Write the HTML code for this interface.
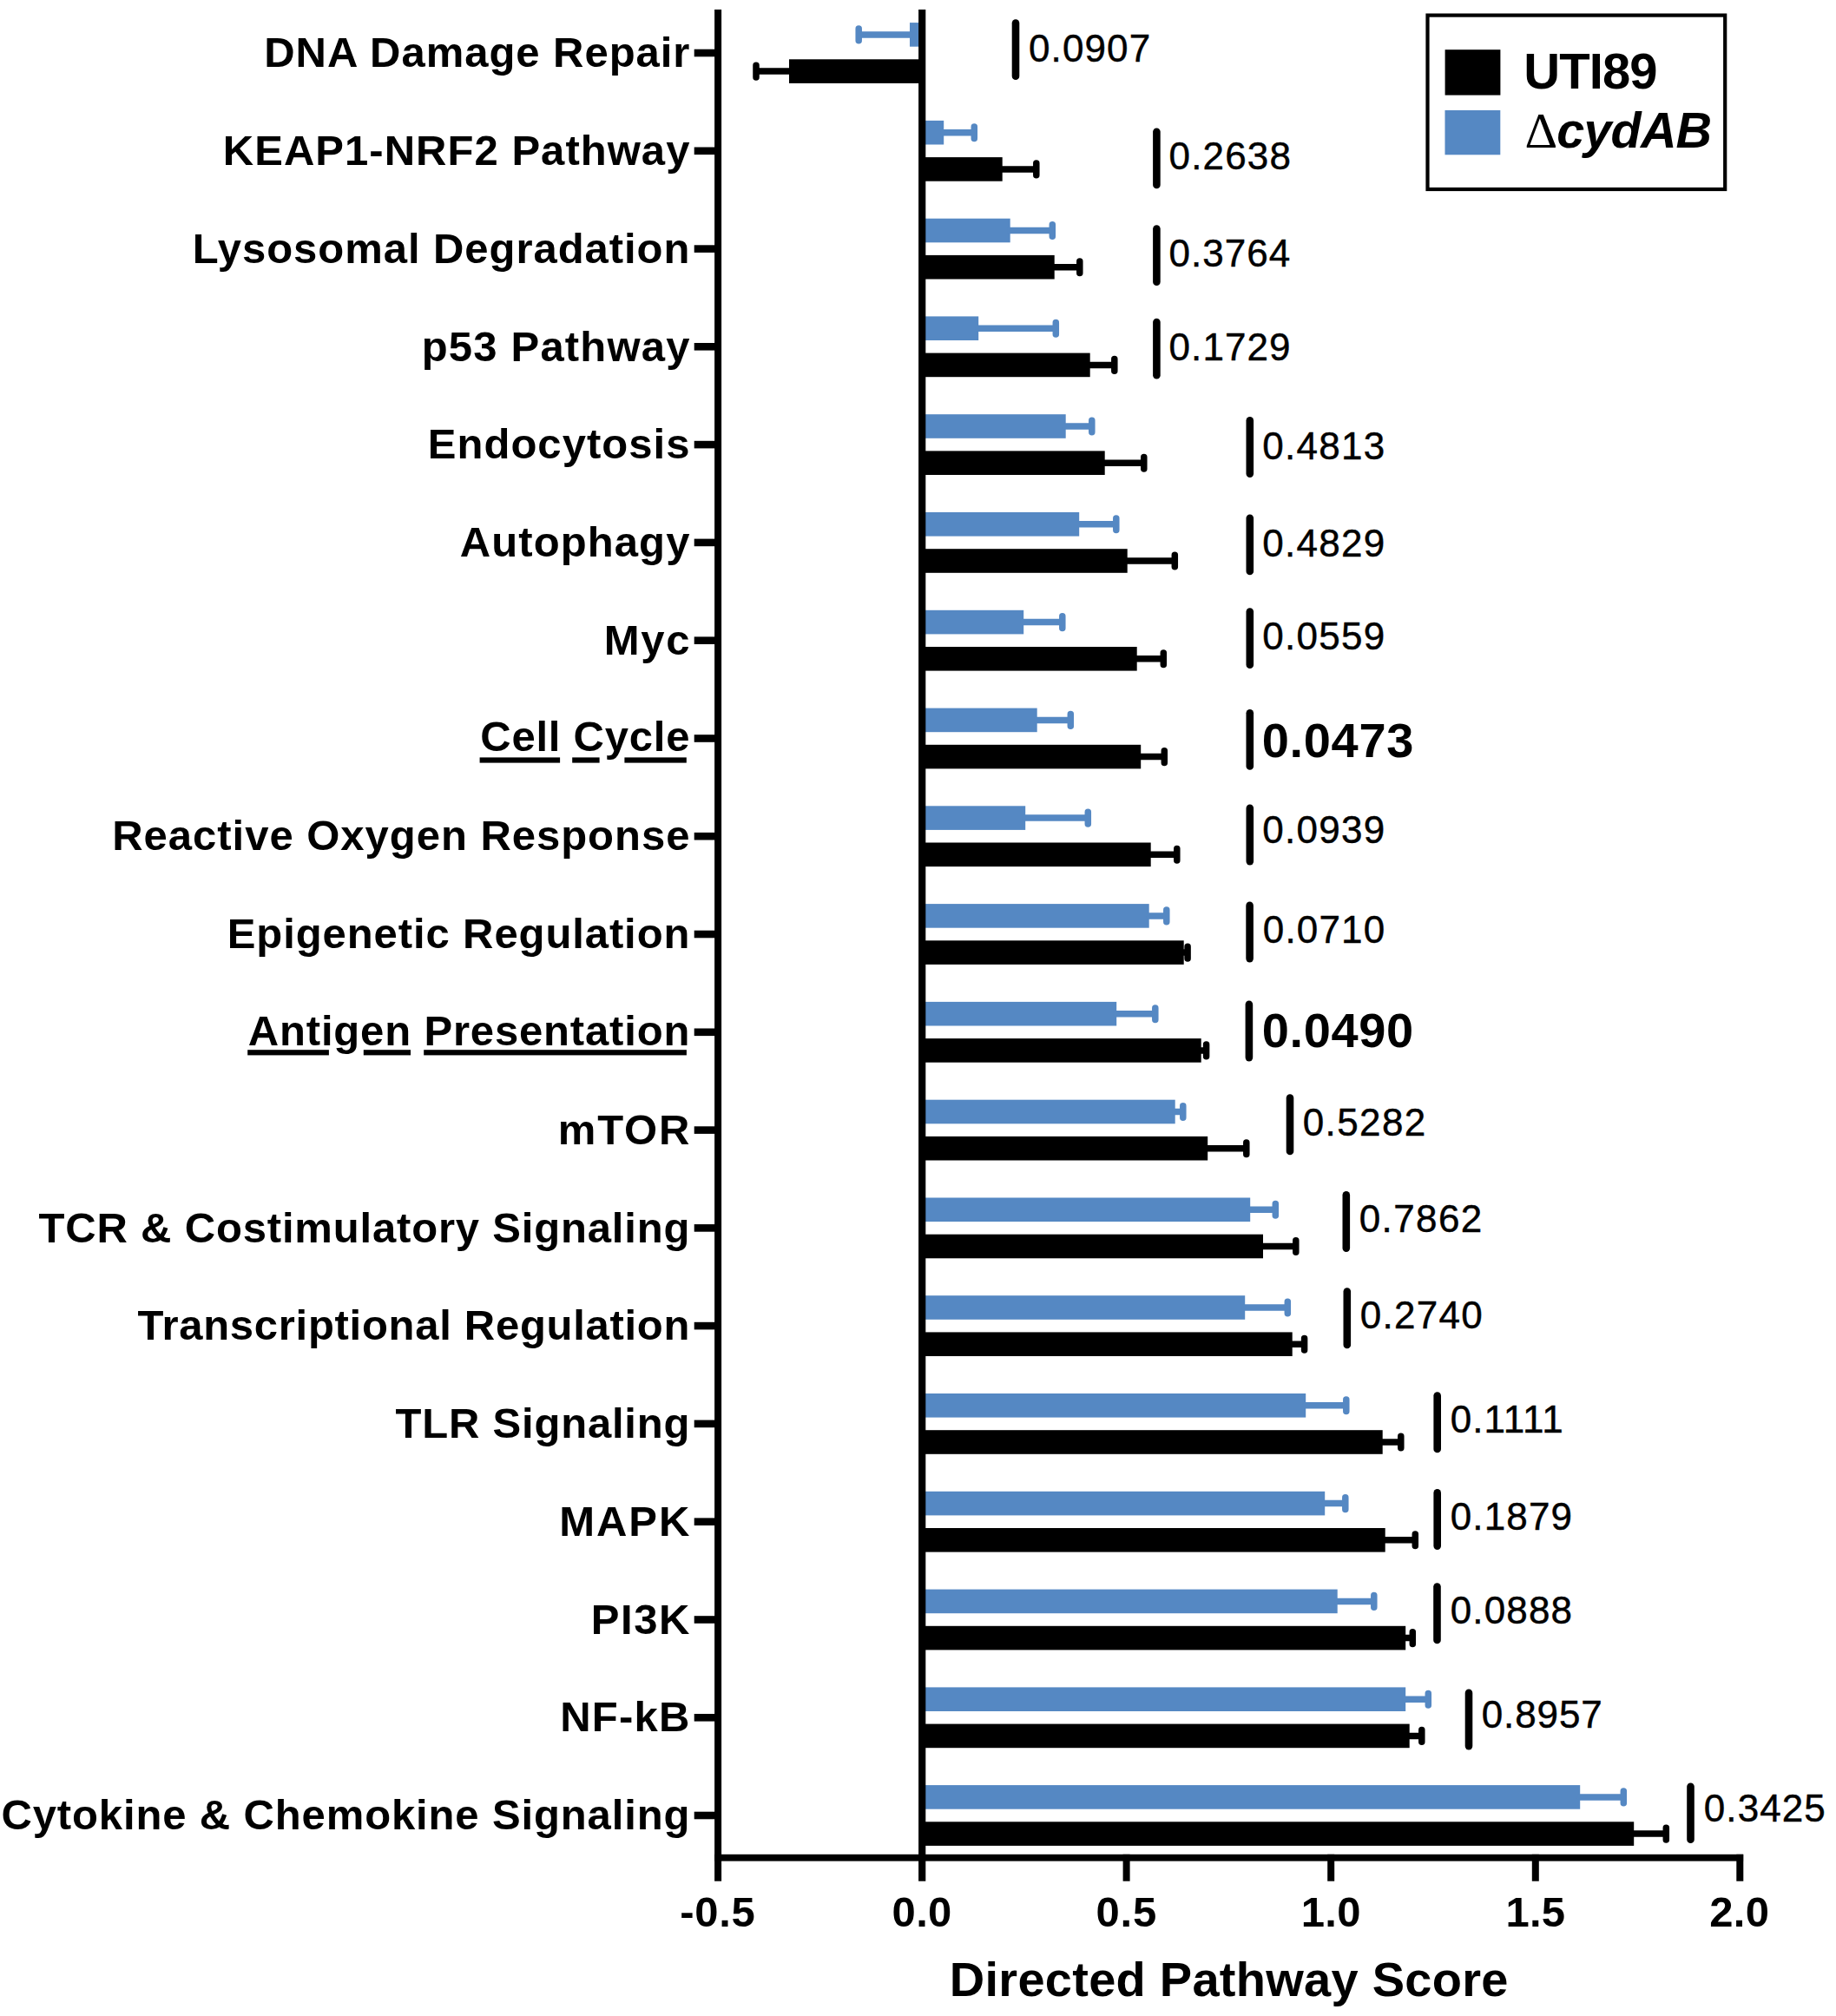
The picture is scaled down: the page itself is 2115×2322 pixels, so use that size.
<!DOCTYPE html>
<html><head><meta charset="utf-8"><title>Directed Pathway Score</title>
<style>html,body{margin:0;padding:0;background:#fff}svg{display:block}text{font-family:"Liberation Sans",sans-serif;fill:#000}.b{font-weight:700}.bi{font-weight:700;font-style:italic}.s{font-family:"Liberation Serif",serif}.r{stroke:#000;stroke-width:.45px}</style></head><body>
<svg width="2115" height="2322" viewBox="0 0 2115 2322">
<rect width="2115" height="2322" fill="#fff"/>
<rect x="1048.0" y="26.1" width="14.2" height="27.6" fill="#5588c3"/>
<path d="M1048.0 39.9H989.2M989.2 33.1V46.7" stroke="#5588c3" stroke-width="7.5" stroke-linecap="round" fill="none"/>
<rect x="909.0" y="68.3" width="153.2" height="27.6" fill="#000"/>
<path d="M909.0 82.1H871.0M871.0 75.3V88.9" stroke="#000" stroke-width="7.5" stroke-linecap="round" fill="none"/>
<rect x="799.7" y="56.7" width="25" height="8.6" fill="#000"/>
<text class="b" font-size="49" letter-spacing="0.965" x="304.25" y="77.20">DNA Damage Repair</text>
<path d="M1170 26.6V87.8" stroke="#000" stroke-width="8.6" stroke-linecap="round"/>
<text class="r" font-size="44" letter-spacing="1.095" x="1185.05" y="70.90">0.0907</text>
<rect x="1062.2" y="138.9" width="25.0" height="27.6" fill="#5588c3"/>
<path d="M1087.2 152.7H1122.3M1122.3 145.9V159.5" stroke="#5588c3" stroke-width="7.5" stroke-linecap="round" fill="none"/>
<rect x="1062.2" y="181.1" width="92.5" height="27.6" fill="#000"/>
<path d="M1154.7 194.9H1193.8M1193.8 188.1V201.7" stroke="#000" stroke-width="7.5" stroke-linecap="round" fill="none"/>
<rect x="799.7" y="169.5" width="25" height="8.6" fill="#000"/>
<text class="b" font-size="49" letter-spacing="1.033" x="256.75" y="189.98">KEAP1-NRF2 Pathway</text>
<path d="M1332.4 151.8V213.0" stroke="#000" stroke-width="8.6" stroke-linecap="round"/>
<text class="r" font-size="44" letter-spacing="1.165" x="1346.55" y="195.30">0.2638</text>
<rect x="1062.2" y="251.7" width="101.5" height="27.6" fill="#5588c3"/>
<path d="M1163.7 265.5H1212.3M1212.3 258.7V272.3" stroke="#5588c3" stroke-width="7.5" stroke-linecap="round" fill="none"/>
<rect x="1062.2" y="293.9" width="152.5" height="27.6" fill="#000"/>
<path d="M1214.7 307.7H1243.8M1243.8 300.9V314.5" stroke="#000" stroke-width="7.5" stroke-linecap="round" fill="none"/>
<rect x="799.7" y="282.3" width="25" height="8.6" fill="#000"/>
<text class="b" font-size="49" letter-spacing="0.950" x="221.75" y="302.76">Lysosomal Degradation</text>
<path d="M1332.4 263.5V324.7" stroke="#000" stroke-width="8.6" stroke-linecap="round"/>
<text class="r" font-size="44" letter-spacing="1.040" x="1346.55" y="307.00">0.3764</text>
<rect x="1062.2" y="364.4" width="65.0" height="27.6" fill="#5588c3"/>
<path d="M1127.2 378.2H1216.3M1216.3 371.4V385.0" stroke="#5588c3" stroke-width="7.5" stroke-linecap="round" fill="none"/>
<rect x="1062.2" y="406.6" width="193.5" height="27.6" fill="#000"/>
<path d="M1255.7 420.4H1283.8M1283.8 413.6V427.2" stroke="#000" stroke-width="7.5" stroke-linecap="round" fill="none"/>
<rect x="799.7" y="395.0" width="25" height="8.6" fill="#000"/>
<text class="b" font-size="49" letter-spacing="1.180" x="485.75" y="415.54">p53 Pathway</text>
<path d="M1332.4 371.1V432.2" stroke="#000" stroke-width="8.6" stroke-linecap="round"/>
<text class="r" font-size="44" letter-spacing="1.090" x="1346.55" y="414.60">0.1729</text>
<rect x="1062.2" y="477.2" width="165.5" height="27.6" fill="#5588c3"/>
<path d="M1227.7 491.0H1257.8M1257.8 484.2V497.8" stroke="#5588c3" stroke-width="7.5" stroke-linecap="round" fill="none"/>
<rect x="1062.2" y="519.4" width="210.5" height="27.6" fill="#000"/>
<path d="M1272.7 533.2H1317.8M1317.8 526.4V540.0" stroke="#000" stroke-width="7.5" stroke-linecap="round" fill="none"/>
<rect x="799.7" y="507.8" width="25" height="8.6" fill="#000"/>
<text class="b" font-size="49" letter-spacing="1.030" x="492.75" y="528.32">Endocytosis</text>
<path d="M1439.8 484.4V545.6" stroke="#000" stroke-width="8.6" stroke-linecap="round"/>
<text class="r" font-size="44" letter-spacing="1.285" x="1454.15" y="528.80">0.4813</text>
<rect x="1062.2" y="590.0" width="181.0" height="27.6" fill="#5588c3"/>
<path d="M1243.2 603.8H1285.8M1285.8 597.0V610.6" stroke="#5588c3" stroke-width="7.5" stroke-linecap="round" fill="none"/>
<rect x="1062.2" y="632.2" width="236.5" height="27.6" fill="#000"/>
<path d="M1298.7 646.0H1353.3M1353.3 639.2V652.8" stroke="#000" stroke-width="7.5" stroke-linecap="round" fill="none"/>
<rect x="799.7" y="620.6" width="25" height="8.6" fill="#000"/>
<text class="b" font-size="49" letter-spacing="1.098" x="529.75" y="641.10">Autophagy</text>
<path d="M1439.8 596.8V658.0" stroke="#000" stroke-width="8.6" stroke-linecap="round"/>
<text class="r" font-size="44" letter-spacing="1.310" x="1454.15" y="640.60">0.4829</text>
<rect x="1062.2" y="702.8" width="117.0" height="27.6" fill="#5588c3"/>
<path d="M1179.2 716.6H1223.8M1223.8 709.8V723.4" stroke="#5588c3" stroke-width="7.5" stroke-linecap="round" fill="none"/>
<rect x="1062.2" y="745.0" width="247.5" height="27.6" fill="#000"/>
<path d="M1309.7 758.8H1340.3M1340.3 752.0V765.6" stroke="#000" stroke-width="7.5" stroke-linecap="round" fill="none"/>
<rect x="799.7" y="733.4" width="25" height="8.6" fill="#000"/>
<text class="b" font-size="49" letter-spacing="1.714" x="695.65" y="753.88">Myc</text>
<path d="M1439.8 704.5V765.7" stroke="#000" stroke-width="8.6" stroke-linecap="round"/>
<text class="r" font-size="44" letter-spacing="1.310" x="1454.15" y="748.40">0.0559</text>
<rect x="1062.2" y="815.6" width="132.5" height="27.6" fill="#5588c3"/>
<path d="M1194.7 829.4H1233.3M1233.3 822.6V836.2" stroke="#5588c3" stroke-width="7.5" stroke-linecap="round" fill="none"/>
<rect x="1062.2" y="857.8" width="252.0" height="27.6" fill="#000"/>
<path d="M1314.2 871.6H1341.3M1341.3 864.8V878.4" stroke="#000" stroke-width="7.5" stroke-linecap="round" fill="none"/>
<rect x="799.7" y="846.2" width="25" height="8.6" fill="#000"/>
<text class="b" font-size="49" letter-spacing="0.763" x="553.30" y="865.46">Cell Cycle</text>
<path d="M1439.8 821.3V882.5" stroke="#000" stroke-width="8.6" stroke-linecap="round"/>
<text class="b" font-size="56" letter-spacing="0.700" x="1453.65" y="872.00">0.0473</text>
<rect x="1062.2" y="928.3" width="119.0" height="27.6" fill="#5588c3"/>
<path d="M1181.2 942.1H1253.3M1253.3 935.3V948.9" stroke="#5588c3" stroke-width="7.5" stroke-linecap="round" fill="none"/>
<rect x="1062.2" y="970.5" width="263.5" height="27.6" fill="#000"/>
<path d="M1325.7 984.3H1355.8M1355.8 977.5V991.1" stroke="#000" stroke-width="7.5" stroke-linecap="round" fill="none"/>
<rect x="799.7" y="958.9" width="25" height="8.6" fill="#000"/>
<text class="b" font-size="49" letter-spacing="0.975" x="129.25" y="979.44">Reactive Oxygen Response</text>
<path d="M1439.8 930.9V992.1" stroke="#000" stroke-width="8.6" stroke-linecap="round"/>
<text class="r" font-size="44" letter-spacing="1.310" x="1454.15" y="970.80">0.0939</text>
<rect x="1062.2" y="1041.1" width="261.5" height="27.6" fill="#5588c3"/>
<path d="M1323.7 1054.9H1343.8M1343.8 1048.1V1061.7" stroke="#5588c3" stroke-width="7.5" stroke-linecap="round" fill="none"/>
<rect x="1062.2" y="1083.3" width="301.5" height="27.6" fill="#000"/>
<path d="M1363.7 1097.1H1368.1M1368.1 1090.3V1103.9" stroke="#000" stroke-width="7.5" stroke-linecap="round" fill="none"/>
<rect x="799.7" y="1071.7" width="25" height="8.6" fill="#000"/>
<text class="b" font-size="49" letter-spacing="0.905" x="261.75" y="1092.22">Epigenetic Regulation</text>
<path d="M1439.6 1042.9V1104.1" stroke="#000" stroke-width="8.6" stroke-linecap="round"/>
<text class="r" font-size="44" letter-spacing="1.175" x="1454.75" y="1086.10">0.0710</text>
<rect x="1062.2" y="1153.9" width="224.0" height="27.6" fill="#5588c3"/>
<path d="M1286.2 1167.7H1330.8M1330.8 1160.9V1174.5" stroke="#5588c3" stroke-width="7.5" stroke-linecap="round" fill="none"/>
<rect x="1062.2" y="1196.1" width="321.5" height="27.6" fill="#000"/>
<path d="M1383.7 1209.9H1389.6M1389.6 1203.1V1216.7" stroke="#000" stroke-width="7.5" stroke-linecap="round" fill="none"/>
<rect x="799.7" y="1184.5" width="25" height="8.6" fill="#000"/>
<text class="b" font-size="49" letter-spacing="0.835" x="285.75" y="1204.00">Antigen Presentation</text>
<path d="M1438.9 1156.9V1218.1" stroke="#000" stroke-width="8.6" stroke-linecap="round"/>
<text class="b" font-size="56" letter-spacing="0.610" x="1453.75" y="1206.30">0.0490</text>
<rect x="1062.2" y="1266.7" width="291.5" height="27.6" fill="#5588c3"/>
<path d="M1353.7 1280.5H1362.8M1362.8 1273.7V1287.3" stroke="#5588c3" stroke-width="7.5" stroke-linecap="round" fill="none"/>
<rect x="1062.2" y="1308.9" width="329.0" height="27.6" fill="#000"/>
<path d="M1391.2 1322.7H1435.8M1435.8 1315.9V1329.5" stroke="#000" stroke-width="7.5" stroke-linecap="round" fill="none"/>
<rect x="799.7" y="1297.3" width="25" height="8.6" fill="#000"/>
<text class="b" font-size="49" letter-spacing="1.845" x="642.75" y="1317.78">mTOR</text>
<path d="M1486 1264.6V1325.9" stroke="#000" stroke-width="8.6" stroke-linecap="round"/>
<text class="r" font-size="44" letter-spacing="1.375" x="1500.75" y="1307.60">0.5282</text>
<rect x="1062.2" y="1379.5" width="378.0" height="27.6" fill="#5588c3"/>
<path d="M1440.2 1393.3H1469.3M1469.3 1386.5V1400.1" stroke="#5588c3" stroke-width="7.5" stroke-linecap="round" fill="none"/>
<rect x="1062.2" y="1421.7" width="392.8" height="27.6" fill="#000"/>
<path d="M1455.0 1435.5H1492.8M1492.8 1428.7V1442.3" stroke="#000" stroke-width="7.5" stroke-linecap="round" fill="none"/>
<rect x="799.7" y="1410.1" width="25" height="8.6" fill="#000"/>
<text class="b" font-size="49" letter-spacing="0.822" x="44.50" y="1430.56">TCR &amp; Costimulatory Signaling</text>
<path d="M1550.8 1376.4V1437.6" stroke="#000" stroke-width="8.6" stroke-linecap="round"/>
<text class="r" font-size="44" letter-spacing="1.375" x="1565.75" y="1418.60">0.7862</text>
<rect x="1062.2" y="1492.2" width="372.0" height="27.6" fill="#5588c3"/>
<path d="M1434.2 1506.0H1483.3M1483.3 1499.2V1512.8" stroke="#5588c3" stroke-width="7.5" stroke-linecap="round" fill="none"/>
<rect x="1062.2" y="1534.4" width="426.5" height="27.6" fill="#000"/>
<path d="M1488.7 1548.2H1502.6M1502.6 1541.4V1555.0" stroke="#000" stroke-width="7.5" stroke-linecap="round" fill="none"/>
<rect x="799.7" y="1522.8" width="25" height="8.6" fill="#000"/>
<text class="b" font-size="49" letter-spacing="0.715" x="158.50" y="1543.34">Transcriptional Regulation</text>
<path d="M1551.8 1487.6V1548.9" stroke="#000" stroke-width="8.6" stroke-linecap="round"/>
<text class="r" font-size="44" letter-spacing="1.275" x="1566.75" y="1530.10">0.2740</text>
<rect x="1062.2" y="1605.0" width="442.0" height="27.6" fill="#5588c3"/>
<path d="M1504.2 1618.8H1550.8M1550.8 1612.0V1625.6" stroke="#5588c3" stroke-width="7.5" stroke-linecap="round" fill="none"/>
<rect x="1062.2" y="1647.2" width="530.5" height="27.6" fill="#000"/>
<path d="M1592.7 1661.0H1613.8M1613.8 1654.2V1667.8" stroke="#000" stroke-width="7.5" stroke-linecap="round" fill="none"/>
<rect x="799.7" y="1635.6" width="25" height="8.6" fill="#000"/>
<text class="b" font-size="49" letter-spacing="0.795" x="455.50" y="1656.12">TLR Signaling</text>
<path d="M1655.7 1607.6V1668.9" stroke="#000" stroke-width="8.6" stroke-linecap="round"/>
<text class="r" font-size="44" letter-spacing="1.0" x="1670.85" y="1650.10">0.1111</text>
<rect x="1062.2" y="1717.8" width="464.0" height="27.6" fill="#5588c3"/>
<path d="M1526.2 1731.6H1549.8M1549.8 1724.8V1738.4" stroke="#5588c3" stroke-width="7.5" stroke-linecap="round" fill="none"/>
<rect x="1062.2" y="1760.0" width="533.5" height="27.6" fill="#000"/>
<path d="M1595.7 1773.8H1630.3M1630.3 1767.0V1780.6" stroke="#000" stroke-width="7.5" stroke-linecap="round" fill="none"/>
<rect x="799.7" y="1748.4" width="25" height="8.6" fill="#000"/>
<text class="b" font-size="49" letter-spacing="1.958" x="644.25" y="1768.90">MAPK</text>
<path d="M1655.7 1719.4V1780.6" stroke="#000" stroke-width="8.6" stroke-linecap="round"/>
<text class="r" font-size="44" letter-spacing="1.150" x="1670.75" y="1762.10">0.1879</text>
<rect x="1062.2" y="1830.6" width="478.5" height="27.6" fill="#5588c3"/>
<path d="M1540.7 1844.4H1582.8M1582.8 1837.6V1851.2" stroke="#5588c3" stroke-width="7.5" stroke-linecap="round" fill="none"/>
<rect x="1062.2" y="1872.8" width="557.0" height="27.6" fill="#000"/>
<path d="M1619.2 1886.6H1627.3M1627.3 1879.8V1893.4" stroke="#000" stroke-width="7.5" stroke-linecap="round" fill="none"/>
<rect x="799.7" y="1861.2" width="25" height="8.6" fill="#000"/>
<text class="b" font-size="49" letter-spacing="1.571" x="680.75" y="1881.68">PI3K</text>
<path d="M1655.5 1827.6V1888.9" stroke="#000" stroke-width="8.6" stroke-linecap="round"/>
<text class="r" font-size="44" letter-spacing="1.125" x="1670.75" y="1870.10">0.0888</text>
<rect x="1062.2" y="1943.4" width="557.0" height="27.6" fill="#5588c3"/>
<path d="M1619.2 1957.2H1645.3M1645.3 1950.4V1964.0" stroke="#5588c3" stroke-width="7.5" stroke-linecap="round" fill="none"/>
<rect x="1062.2" y="1985.6" width="561.5" height="27.6" fill="#000"/>
<path d="M1623.7 1999.4H1637.8M1637.8 1992.6V2006.2" stroke="#000" stroke-width="7.5" stroke-linecap="round" fill="none"/>
<rect x="799.7" y="1974.0" width="25" height="8.6" fill="#000"/>
<text class="b" font-size="49" letter-spacing="1.219" x="645.25" y="1994.46">NF-kB</text>
<path d="M1692 1949.9V2011.1" stroke="#000" stroke-width="8.6" stroke-linecap="round"/>
<text class="r" font-size="44" letter-spacing="0.875" x="1706.75" y="1990.10">0.8957</text>
<rect x="1062.2" y="2056.1" width="758.0" height="27.6" fill="#5588c3"/>
<path d="M1820.2 2069.9H1870.3M1870.3 2063.1V2076.7" stroke="#5588c3" stroke-width="7.5" stroke-linecap="round" fill="none"/>
<rect x="1062.2" y="2098.3" width="820.0" height="27.6" fill="#000"/>
<path d="M1882.2 2112.1H1919.3M1919.3 2105.3V2118.9" stroke="#000" stroke-width="7.5" stroke-linecap="round" fill="none"/>
<rect x="799.7" y="2086.7" width="25" height="8.6" fill="#000"/>
<text class="b" font-size="49" letter-spacing="0.866" x="1.50" y="2107.24">Cytokine &amp; Chemokine Signaling</text>
<path d="M1947.5 2057.7V2118.8" stroke="#000" stroke-width="8.6" stroke-linecap="round"/>
<text class="r" font-size="44" letter-spacing="1.100" x="1962.75" y="2097.60">0.3425</text>
<rect x="552.6" y="872.4" width="92.5" height="6.2" fill="#000"/>
<rect x="659.2" y="872.4" width="31.4" height="6.2" fill="#000"/>
<rect x="719.4" y="872.4" width="71.4" height="6.2" fill="#000"/>
<rect x="285.2" y="1209.2" width="93.7" height="6.2" fill="#000"/>
<rect x="418.8" y="1209.2" width="54.2" height="6.2" fill="#000"/>
<rect x="488.2" y="1209.2" width="302.7" height="6.2" fill="#000"/>
<rect x="823.1" y="11" width="8" height="2155.7" fill="#000"/>
<rect x="1058.1" y="11" width="8.2" height="2155.7" fill="#000"/>
<rect x="823.1" y="2135.8" width="1185" height="7.8" fill="#000"/>
<text class="b" font-size="49" letter-spacing="0.725" x="783.23" y="2219.30">-0.5</text>
<text class="b" font-size="49" letter-spacing="0.288" x="1027.60" y="2219.30">0.0</text>
<rect x="1293.6" y="2135.8" width="8" height="30.9" fill="#000"/>
<text class="b" font-size="49" letter-spacing="0.775" x="1262.50" y="2219.30">0.5</text>
<rect x="1529.2" y="2135.8" width="8" height="30.9" fill="#000"/>
<text class="b" font-size="49" letter-spacing="0.288" x="1498.80" y="2219.3">1.0</text>
<rect x="1764.8" y="2135.8" width="8" height="30.9" fill="#000"/>
<text class="b" font-size="49" letter-spacing="0.288" x="1734.40" y="2219.3">1.5</text>
<rect x="2000.3" y="2135.8" width="8" height="30.9" fill="#000"/>
<text class="b" font-size="49" letter-spacing="0.312" x="1969.25" y="2219.30">2.0</text>
<text class="b" font-size="56" letter-spacing="0.263" x="1093.85" y="2299.40">Directed Pathway Score</text>
<rect x="1644.5" y="17.6" width="342.7" height="200.4" fill="#fff" stroke="#000" stroke-width="4.2"/>
<rect x="1664.6" y="57.2" width="63.8" height="52.4" fill="#000"/>
<rect x="1664.5" y="127" width="63.8" height="51.3" fill="#5588c3"/>
<text class="b" font-size="58" letter-spacing="-0.919" x="1755.30" y="101.70">UTI89</text>
<text class="s" font-size="56" transform="translate(1756.58,170.00) scale(1.0457,1)">Δ</text>
<text class="bi" font-size="57.5" letter-spacing="-0.812" x="1793.25" y="169.80">cydAB</text>
</svg></body></html>
